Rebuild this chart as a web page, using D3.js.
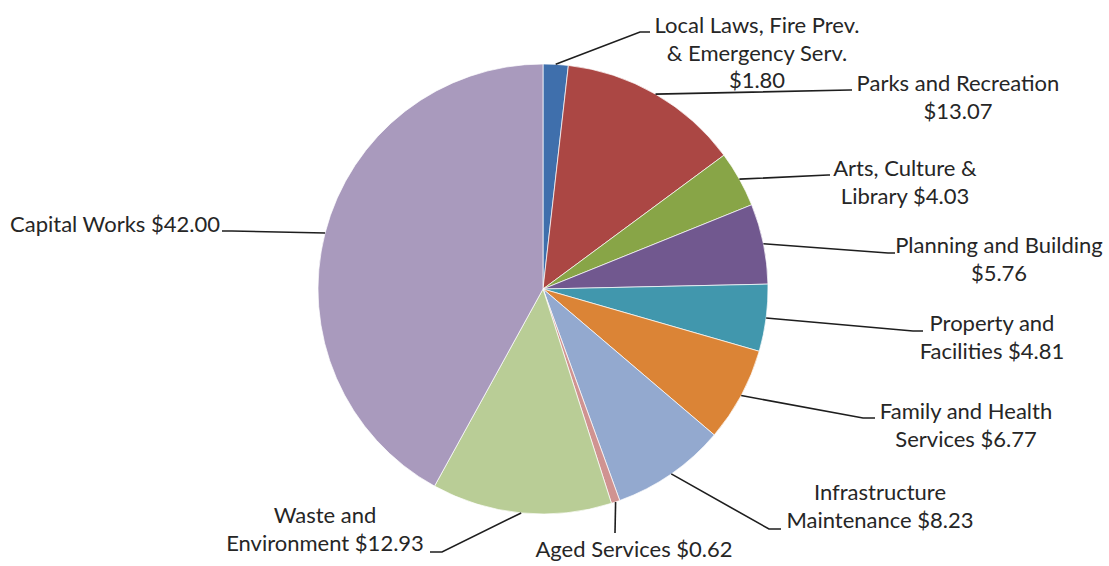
<!DOCTYPE html>
<html lang="en">
<head>
    <meta charset="UTF-8">
    <title>Budget Pie</title>
    <script src="https://d3js.org/d3.v7.min.js"></script>
    <style>
        body {
            margin: 0;
            background: #fff;
            font-family: Lato, "Open Sans", sans-serif;
        }
        .label {
            font-size: 22px;
            fill: #262626;
        }
        .leader {
            fill: none;
            stroke: #1e1e1e;
            stroke-width: 1.6px;
        }
    </style>
</head>
<body>
<svg id="pie"></svg>

<script>
    // data, clockwise from 12 o'clock
    const categories = [
        "Local Laws, Fire Prev. & Emergency Serv.",
        "Parks and Recreation",
        "Arts, Culture & Library",
        "Planning and Building",
        "Property and Facilities",
        "Family and Health Services",
        "Infrastructure Maintenance",
        "Aged Services",
        "Waste and Environment",
        "Capital Works"
    ];
    const values = [1.80, 13.07, 4.03, 5.76, 4.81, 6.77, 8.23, 0.62, 12.93, 42.00];
    // how each label breaks into lines ({v} = value)
    const labelLines = [
        ["Local Laws, Fire Prev.", "& Emergency Serv.", "{v}"],
        ["Parks and Recreation", "{v}"],
        ["Arts, Culture &", "Library {v}"],
        ["Planning and Building", "{v}"],
        ["Property and", "Facilities {v}"],
        ["Family and Health", "Services {v}"],
        ["Infrastructure", "Maintenance {v}"],
        ["Aged Services {v}"],
        ["Waste and", "Environment {v}"],
        ["Capital Works {v}"]
    ];
    const colors = ["#3f6fac", "#ab4744", "#88a547", "#71588f", "#4197ad",
                    "#db8436", "#93a9cf", "#d09391", "#b9cd96", "#a99abd"];

    // label placement (layout only): text centre, first baseline, leader bend + end
    const labelLayout = [
        { x: 757, y: 33,  bend: [640, 32], end: [650, 32] },
        { x: 958, y: 91,  bend: [850, 90], end: [852, 90] },
        { x: 905, y: 176, bend: [828, 175], end: [830, 175] },
        { x: 999, y: 253, bend: [888, 253], end: [895, 253] },
        { x: 992, y: 331, bend: [913, 331], end: [923, 331] },
        { x: 966, y: 419, bend: [863, 418], end: [875, 418] },
        { x: 880, y: 500, bend: [769, 529], end: [781, 529] },
        { x: 634, y: 557, bend: [615, 533], end: [615, 533] },
        { x: 325, y: 523, bend: [442, 552], end: [430, 552] },
        { x: 115, y: 232, bend: [232, 231], end: [222, 231] }
    ];

    const width = 1109, height = 566;
    const cx = 543, cy = 289, radius = 225;
    const lineGap = 27.5;

    const svg = d3.select("#pie")
        .attr("width", width)
        .attr("height", height);

    const pie = d3.pie().sort(null).value(d => d);
    const arcs = pie(values);
    const arc = d3.arc().innerRadius(0).outerRadius(radius);

    const g = svg.append("g")
        .attr("transform", `translate(${cx},${cy})`);

    g.selectAll(".slice")
        .data(arcs)
        .enter().append("path")
        .attr("class", "slice")
        .attr("d", arc)
        .style("fill", (d, i) => colors[i])
        .style("stroke", "#fff")
        .style("stroke-width", 0.7);

    // leader lines start on the rim at the middle of each slice
    svg.selectAll(".leader")
        .data(arcs)
        .enter().append("polyline")
        .attr("class", "leader")
        .attr("points", (d, i) => {
            const a = (d.startAngle + d.endAngle) / 2;
            const sx = cx + radius * Math.sin(a);
            const sy = cy - radius * Math.cos(a);
            const L = labelLayout[i];
            return [[sx, sy], L.bend, L.end].map(p => p.join(",")).join(" ");
        });

    const labels = svg.selectAll(".label")
        .data(arcs)
        .enter().append("text")
        .attr("class", "label")
        .attr("text-anchor", "middle");

    labels.each(function(d, i) {
        const L = labelLayout[i];
        const v = "$" + values[i].toFixed(2);
        d3.select(this).selectAll("tspan")
            .data(labelLines[i])
            .enter().append("tspan")
            .attr("x", L.x)
            .attr("y", (t, j) => L.y + j * lineGap)
            .text(t => t.replace("{v}", v));
    });
</script>
</body>
</html>
